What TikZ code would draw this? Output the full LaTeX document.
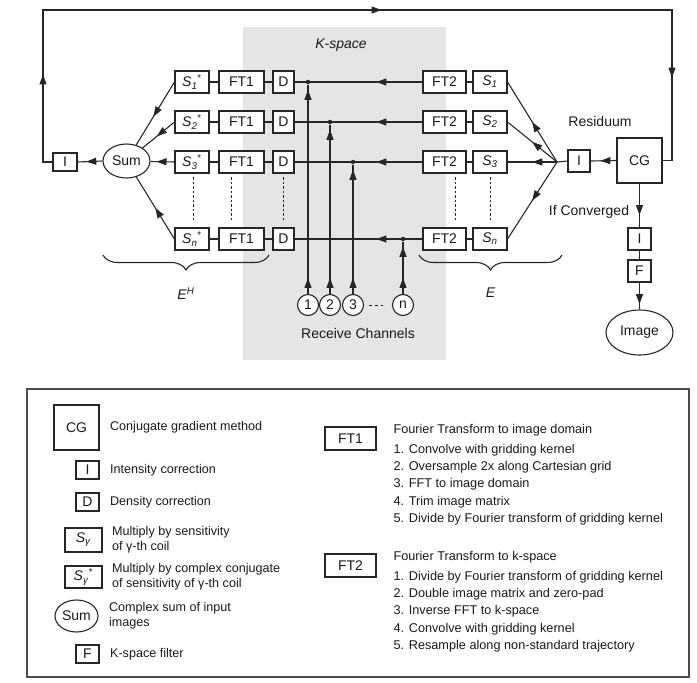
\documentclass[tikz,border=0pt]{standalone}
\usepackage{fontspec}
\setmainfont{Liberation Sans}
\usetikzlibrary{positioning,arrows.meta,decorations.markings,decorations.pathreplacing,shapes.geometric}

\newcommand{\Scoil}[2]{\textit{S}\textsubscript{\textit{#1}}#2}

\begin{document}
\begin{tikzpicture}[x=1pt, y=-1pt,
        line width=1.1pt, draw=black!85, text=black!90,
        font=\fontsize{14}{16}\selectfont,
        tip/.tip = {Triangle[length=10pt,width=7pt]},
        box/.style = {draw, fill=white, inner sep=0pt, minimum height=22pt},
        lbox/.style = {draw, fill=white, inner sep=0pt, minimum width=23pt, minimum height=18pt},
        oval/.style = {ellipse, draw, fill=white, inner sep=0pt},
        chan/.style = {circle, draw, fill=white, inner sep=0pt, minimum size=21pt},
        dot/.style = {circle, fill=black!85, inner sep=0pt, minimum size=4.5pt},
        desc/.style = {inner sep=0pt, align=left, font=\fontsize{12.6}{15}\selectfont},
        steps/.style = {inner sep=0pt, align=left, font=\fontsize{12.7}{17.2}\selectfont},
        vdots/.style = {dash pattern=on 2.5pt off 2pt, line width=0.9pt},
        brc/.style = {decorate, decoration={brace, mirror, amplitude=15pt}},
        marr/.style = {postaction={decorate},
            decoration={markings, mark=at position #1 with {\arrow{tip}}}},
        chanarr/.style = {postaction={decorate},
            decoration={markings, mark=at position 16pt with {\arrow{tip}},
                mark=at position -5pt with {\arrow{tip}}}},
        fback/.style = {postaction={decorate},
            decoration={markings, mark=at position 97pt with {\arrow{tip}},
                mark=at position 500pt with {\arrow{tip}},
                mark=at position 858pt with {\arrow{tip}}}}
    ]
    \useasboundingbox (0,0) rectangle (697,683);

    % k-space band
    \fill[black!10] (243,27) rectangle (446,360);
    \node[font=\fontsize{14}{16}\itshape] (kspace) at (341,45) {K-space};

    % combining and correction on the image side
    \node[oval, minimum width=47pt, minimum height=34pt] (sum) at (126.5,161) {Sum};
    \node[box, minimum width=24pt, minimum height=18pt] (il) at (65,162) {I};
    \coordinate (fan) at (557,162);
    \node[box, minimum width=22pt] (ir) at (579,161) {I};
    \node[box, minimum size=45pt] (cg) at (639.5,160.5) {CG};
    \node (resid) at (600,121) {Residuum};

    % coil rows
    \foreach \r/\yy/\pa in {1/82/0.55, 2/122/0.55, 3/162/0.75, n/239/0.5} {
        \node[box, minimum width=34pt] (sc\r) at (192,\yy) {\Scoil{\r}{\textsuperscript{*}}};
        \node[box, minimum width=45pt] (fta\r) at (241.5,\yy) {FT1};
        \node[box, minimum width=21pt] (d\r) at (283.5,\yy) {D};
        \node[box, minimum width=43pt] (ftb\r) at (444.5,\yy) {FT2};
        \node[box, minimum width=34pt] (s\r) at (490,\yy) {\Scoil{\r}{}};
        \draw (sc\r) -- (fta\r) -- (d\r);
        \draw (ftb\r) -- (s\r);
        \draw[marr=0.36] (ftb\r.west) -- (d\r.east);
        \draw[marr=0.5] (fan) -- (s\r.east);
        \draw[marr=\pa] (sc\r.west) -- (sum);
    }
    \foreach \xx in {193,231,283.5,455,490}
        \draw[vdots] (\xx,177) -- (\xx,221);

    % receive channels
    \foreach \c/\xx/\rr in {1/308/1, 2/330/2, 3/353/3, n/403/n} {
        \node[chan] (ch\c) at (\xx,305) {\c};
        \node[dot] (j\c) at (ch\c |- d\rr) {};
        \draw[chanarr] (ch\c) -- (j\c);
    }
    \draw[line width=0.8pt, dash pattern=on 3.5pt off 2.5pt, shorten <=4.5pt, shorten >=9pt] (ch3) -- (chn);
    \node (recv) at (358,333) {Receive Channels};

    \draw[brc] (103,255) -- (269,255) node[midway, below=29pt] (eh) {\textit{E}\textsuperscript{\textit{H}}};
    \draw[brc] (419,255) -- (562,255) node[midway, below=29pt] (e) {\textit{E}};

    % loop
    \draw[marr=0.65] (sum.west) -- (il.east);
    \draw (ir.west) -- (fan);
    \draw[marr=0.62] (cg.west) -- (ir.east);
    \coordinate (tl) at (43,10);
    \coordinate (tr) at (672,10);
    \draw[fback] (il.west) -| (tl) -- (tr) |- (cg.east);

    % output
    \node[box, minimum width=23pt] (ib) at (639.5,239) {I};
    \node[box, minimum width=23pt] (fb) at (639.5,271) {F};
    \node[oval, minimum width=67pt, minimum height=45pt] (img) at (639.5,332.5) {Image};
    \node (conv) at (589,212) {If Converged};
    \draw[marr=0.72] (cg.south) -- (ib.north);
    \draw (ib) -- (fb);
    \draw[marr=0.8] (fb.south) -- (img.north);

    % legend
    \draw[black!70] (27,389) rectangle (689,677);
    \node[box, minimum size=45pt] (lcg) at (76.5,427.5) {CG};
    \node[desc, right=10pt of lcg] (tcg) {Conjugate gradient method};
    \node[lbox] (li) at (87.5,470) {I};
    \node[desc, right=10pt of li] (tli) {Intensity correction};
    \node[lbox] (ld) at (87.5,502) {D};
    \node[desc, right=10pt of ld] (tld) {Density correction};
    \node[box, minimum width=37pt, minimum height=24pt] (ls) at (83.5,540) {\Scoil{γ}{}};
    \node[desc, right=9pt of ls] (tls) {Multiply by sensitivity\\of γ-th coil};
    \node[box, minimum width=37pt, minimum height=22pt] (lsc) at (83.5,577) {\Scoil{γ}{\textsuperscript{*}}};
    \node[desc, right=9pt of lsc] (tlsc) {Multiply by complex conjugate\\of sensitivity of γ-th coil};
    \node[oval, minimum width=43pt, minimum height=32pt] (lsum) at (76.5,616) {Sum};
    \node[desc, right=10pt of lsum] (tlsum) {Complex sum of input\\images};
    \node[lbox] (lf) at (87.5,654) {F};
    \node[desc, right=10pt of lf] (tlf) {K-space filter};

    \node[box, minimum width=51pt, minimum height=23pt] (lft1) at (350.5,438.5) {FT1};
    \node[steps, anchor=north west] (tft1) at (393,423.5) {Fourier Transform to image domain\\[3pt]
        1. Convolve with gridding kernel\\
        2. Oversample 2x along Cartesian grid\\
        3. FFT to image domain\\
        4. Trim image matrix\\
        5. Divide by Fourier transform of gridding kernel};
    \node[box, minimum width=51pt, minimum height=23pt] (lft2) at (350.5,565.5) {FT2};
    \node[steps, anchor=north west] (tft2) at (393,550.5) {Fourier Transform to k-space\\[3pt]
        1. Divide by Fourier transform of gridding kernel\\
        2. Double image matrix and zero-pad\\
        3. Inverse FFT to k-space\\
        4. Convolve with gridding kernel\\
        5. Resample along non-standard trajectory};
\end{tikzpicture}
\end{document}
